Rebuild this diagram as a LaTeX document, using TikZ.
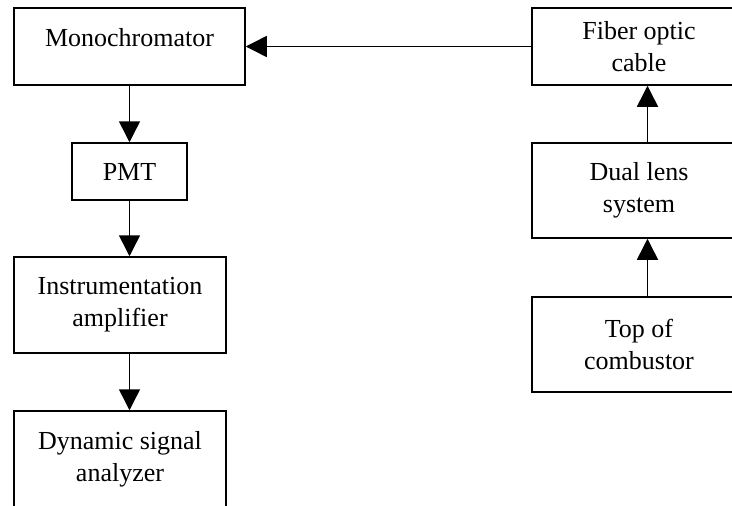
\documentclass[tikz,border=0pt]{standalone}
\usepackage{fontspec}
\setmainfont{Liberation Serif}
\usetikzlibrary{arrows.meta,positioning,calc}

\begin{document}
\begin{tikzpicture}[x=1pt,y=-1pt,
  blok/.style={draw, line width=1.5pt, align=center, inner sep=0pt,
    font=\fontsize{26}{32}\selectfont},
  pijl/.style={-{Triangle[length=21pt,width=21pt]}, line width=1.5pt}]
\clip (0,0) rectangle (732,506);
% left column
\node[blok, minimum width=231pt, minimum height=77pt] (mono) at (129.5,46.5) {Monochromator\\[-13pt]\mbox{}};
\node[blok, minimum width=115pt, minimum height=57pt] (pmt) at (129.5,171.5) {PMT};
\node[blok, minimum width=212pt, minimum height=96pt] (instr) at (120,305) {Instrumentation\\amplifier};
\node[blok, minimum width=212pt, minimum height=96pt] (dsa) at (120,459) {Dynamic signal\\analyzer};
% right column
\node[blok, minimum width=214pt, minimum height=77pt] (fiber) at (639,46.5) {Fiber optic\\cable};
\node[blok, minimum width=214pt, minimum height=95pt] (lens) at (639,190.5) {Dual lens\\system};
\node[blok, minimum width=214pt, minimum height=95pt] (top) at (639,344.5) {Top of\\combustor};
\coordinate (lcol) at (129.5,0);
\coordinate (rcol) at (647.5,0);
% arrows
\draw[pijl] (fiber.west) -- (mono.east);
\draw[pijl] (mono.south -| lcol) -- (pmt.north -| lcol);
\draw[pijl] (pmt.south -| lcol) -- (instr.north -| lcol);
\draw[pijl] (instr.south -| lcol) -- (dsa.north -| lcol);
\draw[pijl] (top.north -| rcol) -- (lens.south -| rcol);
\draw[pijl] (lens.north -| rcol) -- (fiber.south -| rcol);
\end{tikzpicture}
\end{document}
